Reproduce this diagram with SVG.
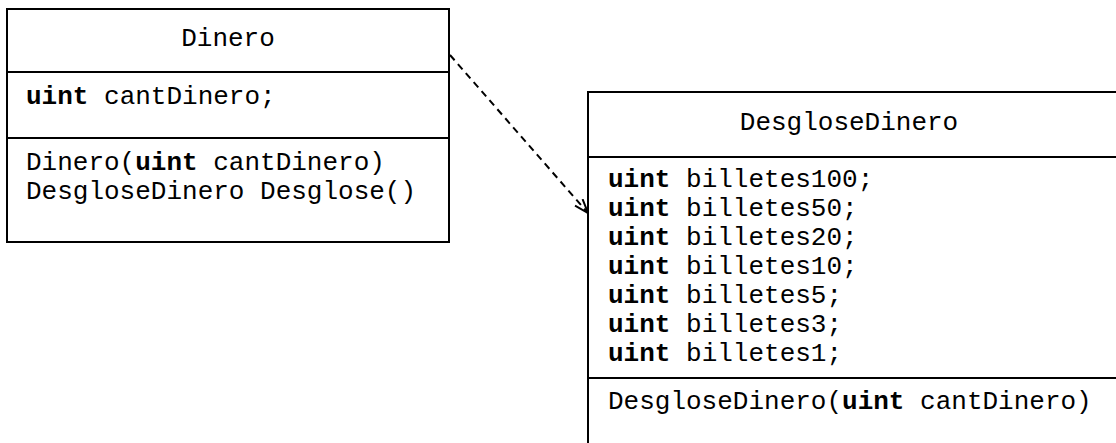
<svg xmlns="http://www.w3.org/2000/svg" width="1116" height="443" viewBox="0 0 1116 443">
<style>
.box{fill:#fff;stroke:#000;stroke-width:2}
.div{stroke:#000;stroke-width:2}
text{font-family:"Liberation Mono","Courier New",monospace;font-size:26px;fill:#000}
.b{font-weight:bold}
.conn{fill:none;stroke:#000;stroke-width:2;stroke-dasharray:7,5}
</style>
<defs>
<marker id="open" viewBox="0 0 16 12" refX="15" refY="6" markerWidth="16" markerHeight="12" markerUnits="userSpaceOnUse" orient="auto">
<path d="M1,1 L15,6 L1,11" fill="none" stroke="#000" stroke-width="2"/>
</marker>
</defs>
<g id="dinero">
<rect class="box" x="7" y="9" width="442" height="233"/>
<line class="div" x1="7" y1="72" x2="449" y2="72"/>
<line class="div" x1="7" y1="138" x2="449" y2="138"/>
<text x="228" y="46" text-anchor="middle">Dinero</text>
<text x="26" y="104"><tspan class="b">uint</tspan> cantDinero;</text>
<text x="26" y="170">Dinero(<tspan class="b">uint</tspan> cantDinero)</text>
<text x="26" y="199">DesgloseDinero Desglose()</text>
</g>
<g id="desgloseDinero">
<rect class="box" x="588" y="92" width="540" height="360"/>
<line class="div" x1="588" y1="157" x2="1128" y2="157"/>
<line class="div" x1="588" y1="378" x2="1128" y2="378"/>
<text x="849" y="130" text-anchor="middle">DesgloseDinero</text>
<text x="608" y="187"><tspan class="b">uint</tspan> billetes100;</text>
<text x="608" y="216"><tspan class="b">uint</tspan> billetes50;</text>
<text x="608" y="245"><tspan class="b">uint</tspan> billetes20;</text>
<text x="608" y="274"><tspan class="b">uint</tspan> billetes10;</text>
<text x="608" y="303"><tspan class="b">uint</tspan> billetes5;</text>
<text x="608" y="332"><tspan class="b">uint</tspan> billetes3;</text>
<text x="608" y="361"><tspan class="b">uint</tspan> billetes1;</text>
<text x="608" y="409">DesgloseDinero(<tspan class="b">uint</tspan> cantDinero)</text>
</g>
<g id="connectors">
<path class="conn" d="M450,55 L588,213" marker-end="url(#open)"/>
</g>
</svg>
